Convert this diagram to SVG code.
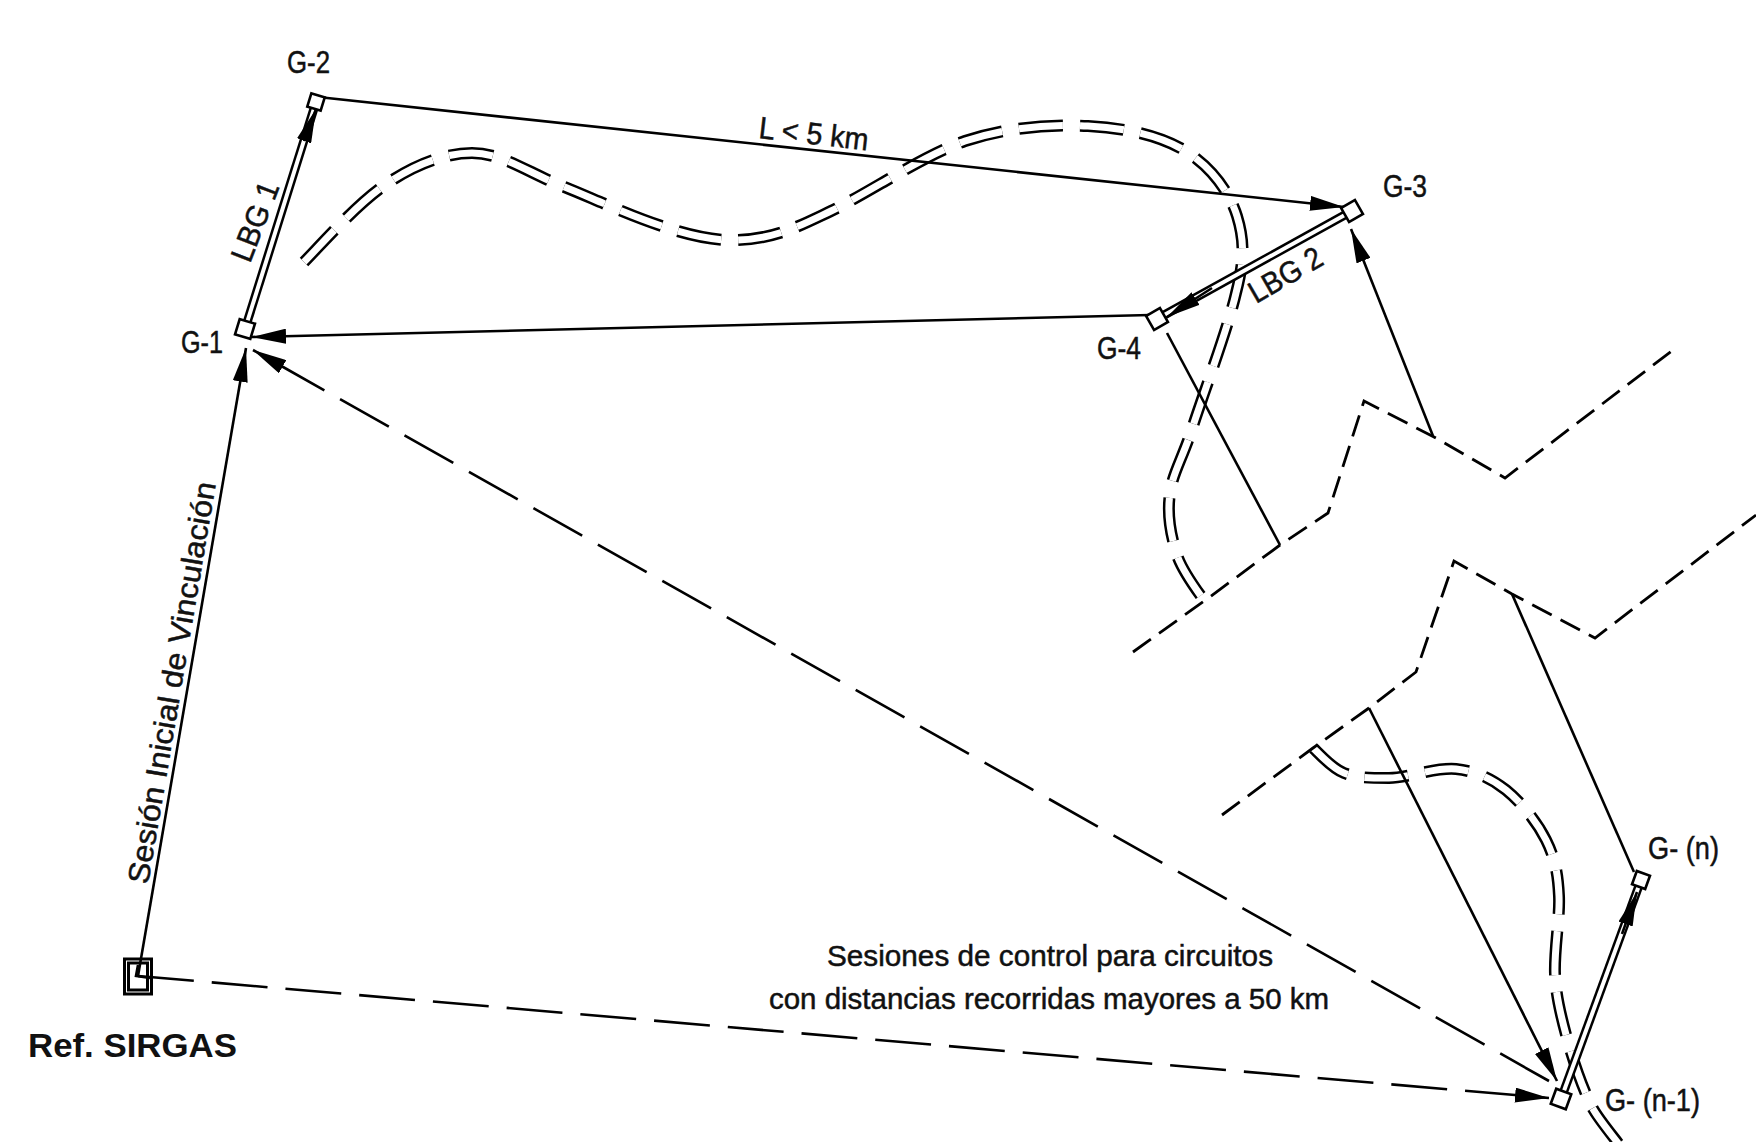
<svg xmlns="http://www.w3.org/2000/svg" width="1756" height="1142" viewBox="0 0 1756 1142">
<defs>
<style>
text{font-family:"Liberation Sans",Arial,sans-serif;fill:#111}
.lbl{font-size:31px;stroke:#111;stroke-width:.5}
.mid{font-size:30px;stroke:#111;stroke-width:.5}
.ln{fill:none;stroke:#000;stroke-width:2.6}
.arr{marker-end:url(#ah)}
.longd{stroke-dasharray:56 18}
.polyd{fill:none;stroke:#000;stroke-width:2.8;stroke-dasharray:22 10}
.rb{fill:none;stroke:#000;stroke-width:12;stroke-dasharray:44 17}
.rw{fill:none;stroke:#fff;stroke-width:7;stroke-dasharray:44 17}
.dbl{stroke:#000;stroke-width:9}
.dblw{stroke:#fff;stroke-width:4}
.sq{fill:#fff;stroke:#000;stroke-width:2.6}
</style>
<marker id="ah" markerUnits="userSpaceOnUse" markerWidth="34" markerHeight="15" refX="34" refY="7.500" orient="auto"><path d="M0,0L34,7.500L0,15z" fill="#000"/></marker>
<path id="c1" d="M304,262C317,249 354,207 382,187C410,167 442,153 472,153C502,153 527,172 562,186C603,202 674,238 727,240C772,241 797,227 831,211C872,191 922,156 965,141C1008,127 1051,124 1088,126C1125,128 1158,135 1184,150C1209,165 1229,190 1237,216C1245,242 1244,262 1236,293C1228,328 1204,392 1193,426C1182,460 1173,472 1170,493C1167,514 1170,531 1176,552C1182,572 1197,590 1208,606"/>
<path id="c2" d="M1313,748C1318,752 1331,768 1344,773C1357,778 1370,778 1389,778C1408,778 1436,767 1456,769C1475,771 1491,778 1506,790C1521,802 1537,822 1546,840C1555,858 1558,874 1559,896C1560,918 1554,950 1555,974C1556,998 1562,1020 1568,1042C1574,1063 1582,1086 1590,1103C1598,1120 1609,1130 1640,1172"/>
</defs>
<rect width="1756" height="1142" fill="#fff"/>
<g id="roads">
<use href="#c1" class="rb"/><use href="#c1" class="rw"/>
<use href="#c2" class="rb"/><use href="#c2" class="rw"/>
<path class="polyd" d="M1133,652L1207,599L1280,545L1328,513L1364,401L1434,437L1505,478L1677,347"/>
<path class="polyd" d="M1222,815L1313,748L1369,708L1416,672L1454,561L1512,594L1595,638L1756,515"/>
</g>
<g id="connectors">
<path class="ln arr" d="M138,976L246,348"/>
<path class="ln arr longd" d="M1549,1081L253,350"/>
<path class="ln arr longd" d="M138,976L1549,1098"/>
<path class="ln arr" d="M318,97L1344,207"/>
<path class="ln arr" d="M1150,315L252,337"/>
<path class="ln" d="M1167,333L1280,545"/>
<path class="ln arr" d="M1433,436L1351,229"/>
<path class="ln" d="M1634,872L1512,594"/>
<path class="ln arr" d="M1369,708L1557,1081"/>
<g id="baselines">
<path class="dbl" d="M245,329L316,102"/><path class="dblw" d="M245,329L316,102"/>
<path class="dbl" d="M1157,319L1352,211"/><path class="dblw" d="M1157,319L1352,211"/>
<path class="dbl" d="M1561,1099L1641,880"/><path class="dblw" d="M1561,1099L1641,880"/>
<path class="ln arr" d="M304,141L316,109"/>
<path class="ln arr" d="M1212,288L1167,317"/>
<path class="ln arr" d="M1622,934L1637,892"/>
</g>
</g>
<g id="ref-sirgas">
<rect x="124.500" y="959" width="27" height="35" fill="none" stroke="#000" stroke-width="3"/>
<rect x="128.500" y="963" width="19" height="27" fill="none" stroke="#000" stroke-width="3"/>
<path class="ln" d="M138,965L136,976L150,978"/>
<text x="28" y="1057" font-size="34" font-weight="700" textLength="209" lengthAdjust="spacingAndGlyphs">Ref. SIRGAS</text>
</g>
<g id="g1"><rect class="sq" x="-8" y="-8" width="16" height="16" transform="translate(245,329) rotate(17)"/><text class="lbl" x="181" y="353" textLength="42" lengthAdjust="spacingAndGlyphs">G-1</text></g>
<g id="g2"><rect class="sq" x="-7" y="-7" width="14" height="14" transform="translate(316,102) rotate(17)"/><text class="lbl" x="287" y="73" textLength="43" lengthAdjust="spacingAndGlyphs">G-2</text></g>
<g id="g3"><rect class="sq" x="-8" y="-8" width="16" height="16" transform="translate(1352,211) rotate(-30)"/><text class="lbl" x="1383" y="197" textLength="44" lengthAdjust="spacingAndGlyphs">G-3</text></g>
<g id="g4"><rect class="sq" x="-8" y="-8" width="16" height="16" transform="translate(1157,319) rotate(-30)"/><text class="lbl" x="1097" y="359" textLength="44" lengthAdjust="spacingAndGlyphs">G-4</text></g>
<g id="gn"><rect class="sq" x="-7" y="-7" width="14" height="14" transform="translate(1641,880) rotate(20)"/><text class="lbl" x="1648" y="859" textLength="71" lengthAdjust="spacingAndGlyphs">G- (n)</text></g>
<g id="gn1"><rect class="sq" x="-8" y="-8" width="16" height="16" transform="translate(1561,1099) rotate(20)"/><text class="lbl" x="1605" y="1111" textLength="95" lengthAdjust="spacingAndGlyphs">G- (n-1)</text></g>
<g id="labels">
<text class="lbl" transform="translate(758,138) rotate(6.500)" textLength="110" lengthAdjust="spacingAndGlyphs">L &lt; 5 km</text>
<text class="lbl" transform="translate(250,264) rotate(-69)" textLength="83" lengthAdjust="spacingAndGlyphs">LBG 1</text>
<text class="lbl" transform="translate(1256,304) rotate(-30)" textLength="80" lengthAdjust="spacingAndGlyphs">LBG 2</text>
<text class="mid" transform="translate(148,885) rotate(-80.400)" textLength="407" lengthAdjust="spacingAndGlyphs">Sesión Inicial de Vinculación</text>
<text class="mid" x="827" y="966" textLength="446" lengthAdjust="spacingAndGlyphs">Sesiones de control para circuitos</text>
<text class="mid" x="769" y="1009" textLength="560" lengthAdjust="spacingAndGlyphs">con distancias recorridas mayores a 50 km</text>
</g>
</svg>
